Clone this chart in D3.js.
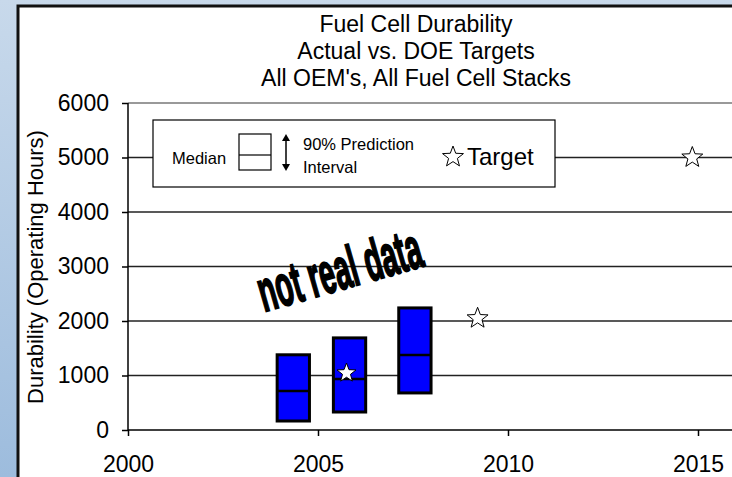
<!DOCTYPE html>
<html>
<head>
<meta charset="utf-8">
<script src="https://cdn.jsdelivr.net/npm/d3@7"></script>
<style>
  body { margin: 0; overflow: hidden; }
  text { font-family: Arial, "Liberation Sans", sans-serif; fill: #000; }
</style>
</head>
<body>
<script>
// chart data
const boxYears = [2004.35, 2005.83, 2007.55];
const boxLow = [165, 330, 680];
const boxMedian = [715, 935, 1375];
const boxHigh = [1380, 1690, 2240];
const actualYear = [2005.75];
const actualValue = [1045];
const targetYears = [2009.2, 2014.85];
const targetValues = [2050, 5000];
const yTicks = [0, 1000, 2000, 3000, 4000, 5000, 6000];
const xTicks = [2000, 2005, 2010, 2015];
const titleLines = ["Fuel Cell Durability", "Actual vs. DOE Targets", "All OEM's, All Fuel Cell Stacks"];

const width = 732;
const height = 477;

const svg = d3.select('body').append('svg')
  .attr('width', width)
  .attr('height', height);

// slide background
const defs = svg.append('defs');
const grad = defs.append('linearGradient')
  .attr('id', 'bg').attr('x1', 0).attr('y1', 0).attr('x2', 0).attr('y2', 1);
grad.append('stop').attr('offset', '0%').attr('stop-color', '#c8d9eb');
grad.append('stop').attr('offset', '100%').attr('stop-color', '#9dbcdd');

svg.append('rect').attr('width', width).attr('height', height).attr('fill', 'url(#bg)');
svg.append('rect')
  .attr('x', 18).attr('y', 6)
  .attr('width', width + 10).attr('height', height + 10)
  .attr('fill', '#fff').attr('stroke', '#111').attr('stroke-width', 3);

const x = d3.scaleLinear().domain([2000, 2015]).range([128, 698]);
const y = d3.scaleLinear().domain([0, 6000]).range([430, 103]);

// title
svg.append('g').selectAll('text')
  .data(titleLines)
  .enter().append('text')
  .attr('x', 416)
  .attr('y', (d, i) => 32 + i * 27)
  .attr('text-anchor', 'middle')
  .attr('font-size', 23)
  .text(d => d);

// horizontal grid lines
svg.append('g').selectAll('line')
  .data(yTicks.filter(d => d > 0))
  .enter().append('line')
  .attr('x1', x(2000)).attr('x2', width + 5)
  .attr('y1', d => y(d)).attr('y2', d => y(d))
  .attr('stroke', d => d === 6000 ? '#999' : '#222')
  .attr('stroke-width', d => d === 6000 ? 2 : 1.5);

// axes
const yAxis = svg.append('g')
  .attr('transform', `translate(${x(2000)},0)`)
  .call(d3.axisLeft(y).tickValues(yTicks).tickSize(6).tickPadding(13).tickFormat(d3.format('d')));
const xAxis = svg.append('g')
  .attr('transform', `translate(0,${y(0)})`)
  .call(d3.axisBottom(x).tickValues(xTicks).tickSize(6).tickPadding(20).tickFormat(d3.format('d')));
[yAxis, xAxis].forEach(a => {
  a.select('.domain').remove();
  a.selectAll('.tick line').attr('stroke', '#000').attr('stroke-width', 1.5);
  a.selectAll('text').attr('font-size', 23).attr('font-family', 'Arial, "Liberation Sans", sans-serif').attr('fill', '#000');
});
svg.append('line')
  .attr('x1', x(2000)).attr('x2', x(2000))
  .attr('y1', y(6000)).attr('y2', y(0))
  .attr('stroke', '#000').attr('stroke-width', 1.5);
svg.append('line')
  .attr('x1', x(2000)).attr('x2', width + 5)
  .attr('y1', y(0)).attr('y2', y(0))
  .attr('stroke', '#000').attr('stroke-width', 1.5);

svg.append('text')
  .attr('transform', 'translate(43,267) rotate(-90)')
  .attr('text-anchor', 'middle')
  .attr('font-size', 22)
  .text('Durability (Operating Hours)');

// star path
function starPath(r) {
  const pts = [];
  for (let i = 0; i < 10; i++) {
    const rr = i % 2 === 0 ? r : r * 0.42;
    const a = -Math.PI / 2 + i * Math.PI / 5;
    pts.push([rr * Math.cos(a), rr * Math.sin(a)]);
  }
  return d3.line()(pts) + 'Z';
}

// legend
const leg = svg.append('g');
leg.append('rect')
  .attr('x', 153).attr('y', 120).attr('width', 402).attr('height', 67)
  .attr('fill', '#fff').attr('stroke', '#000').attr('stroke-width', 1.2);
leg.append('text').attr('x', 172).attr('y', 164).attr('font-size', 16.5).text('Median');
leg.append('rect').attr('x', 239).attr('y', 134).attr('width', 32).attr('height', 36)
  .attr('fill', '#fff').attr('stroke', '#000').attr('stroke-width', 1.2);
leg.append('line').attr('x1', 239).attr('x2', 271).attr('y1', 155).attr('y2', 155)
  .attr('stroke', '#000').attr('stroke-width', 1.2);
leg.append('line').attr('x1', 286).attr('x2', 286).attr('y1', 140).attr('y2', 165)
  .attr('stroke', '#000').attr('stroke-width', 1.5);
leg.append('path').attr('d', 'M282,141 L290,141 L286,134 Z').attr('fill', '#000');
leg.append('path').attr('d', 'M282,164 L290,164 L286,171 Z').attr('fill', '#000');
leg.append('text').attr('x', 303).attr('y', 150).attr('font-size', 16.5).text('90% Prediction');
leg.append('text').attr('x', 303).attr('y', 173).attr('font-size', 16.5).text('Interval');
leg.append('path').attr('d', starPath(11)).attr('transform', 'translate(453,157)')
  .attr('fill', '#fff').attr('stroke', '#000').attr('stroke-width', 1);
leg.append('text').attr('x', 467).attr('y', 165).attr('font-size', 24).text('Target');

// watermark
svg.append('text')
  .attr('transform', 'translate(264,312) rotate(-16)')
  .attr('font-family', '"Liberation Sans Narrow", "DejaVu Sans Condensed", "Arial Narrow", sans-serif')
  .attr('font-weight', 'bold')
  .attr('font-size', 58)
  .attr('textLength', 168)
  .attr('lengthAdjust', 'spacingAndGlyphs')
  .attr('stroke', '#000')
  .attr('stroke-width', 2)
  .text('not real data');

// boxes
const bw = 0.85;
const boxes = svg.append('g').selectAll('g')
  .data(boxYears.map((yr, i) => ({ yr, lo: boxLow[i], md: boxMedian[i], hi: boxHigh[i] })))
  .enter().append('g');
boxes.append('rect')
  .attr('x', d => x(d.yr - bw / 2))
  .attr('width', d => x(d.yr + bw / 2) - x(d.yr - bw / 2))
  .attr('y', d => y(d.hi))
  .attr('height', d => y(d.lo) - y(d.hi))
  .attr('fill', '#0000ff').attr('stroke', '#000').attr('stroke-width', 3);
boxes.append('line')
  .attr('x1', d => x(d.yr - bw / 2)).attr('x2', d => x(d.yr + bw / 2))
  .attr('y1', d => y(d.md)).attr('y2', d => y(d.md))
  .attr('stroke', '#000').attr('stroke-width', 2.5);

// actual point
svg.append('g').selectAll('path')
  .data(actualYear.map((yr, i) => ({ yr, v: actualValue[i] })))
  .enter().append('path')
  .attr('d', starPath(10))
  .attr('transform', d => `translate(${x(d.yr)},${y(d.v)})`)
  .attr('fill', '#fff').attr('stroke', '#000').attr('stroke-width', 1);

// targets
svg.append('g').selectAll('path')
  .data(targetYears.map((yr, i) => ({ yr, v: targetValues[i] })))
  .enter().append('path')
  .attr('d', starPath(11))
  .attr('transform', d => `translate(${x(d.yr)},${y(d.v)})`)
  .attr('fill', '#fff').attr('stroke', '#000').attr('stroke-width', 1);
</script>
</body>
</html>
